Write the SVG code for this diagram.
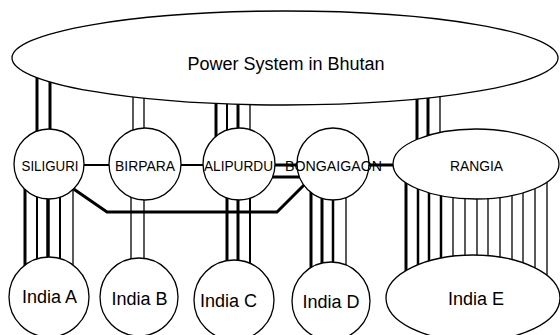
<svg xmlns="http://www.w3.org/2000/svg" width="560" height="335" viewBox="0 0 560 335">
<style>
.n{fill:#fff;stroke:#000;stroke-width:1.3}
.t{font-family:"Liberation Sans",Arial,sans-serif;fill:#000;text-anchor:middle}
.s{font-size:14.5px}
.b{font-size:18px}
.c line,.c polyline{stroke:#000;fill:none}
.w1{stroke-width:1.3}
.w2{stroke-width:2}
.w3{stroke-width:3}
</style>
<rect width="560" height="335" fill="#fff"/>
<g id="connectors" class="c">
<line x1="37" y1="60" x2="37" y2="164" class="w3"/>
<line x1="50" y1="60" x2="50" y2="164" class="w3"/>
<line x1="133" y1="60" x2="133" y2="164" class="w1"/>
<line x1="144" y1="60" x2="144" y2="164" class="w1"/>
<line x1="216" y1="60" x2="216" y2="164" class="w3"/>
<line x1="227" y1="60" x2="227" y2="164" class="w2"/>
<line x1="238" y1="60" x2="238" y2="164" class="w3"/>
<line x1="250" y1="60" x2="250" y2="164" class="w1"/>
<line x1="417" y1="60" x2="417" y2="164" class="w3"/>
<line x1="428" y1="60" x2="428" y2="164" class="w3"/>
<line x1="440" y1="60" x2="440" y2="164" class="w1"/>
<line x1="60" y1="165" x2="130" y2="165" class="w2"/>
<line x1="160" y1="165" x2="225" y2="165" class="w2"/>
<line x1="255" y1="165" x2="310" y2="165" class="w3"/>
<line x1="255" y1="177" x2="315" y2="177" class="w3"/>
<line x1="350" y1="165" x2="420" y2="165" class="w3"/>
<polyline points="70,186.5 107,212 277,212 310,179" class="w3"/>
<line x1="25" y1="164" x2="25" y2="298" class="w3"/>
<line x1="37" y1="164" x2="37" y2="298" class="w2"/>
<line x1="48" y1="164" x2="48" y2="298" style="stroke-width:3.5"/>
<line x1="60" y1="164" x2="60" y2="298" class="w2"/>
<line x1="73" y1="164" x2="73" y2="298" class="w1"/>
<line x1="131" y1="164" x2="131" y2="297" class="w1"/>
<line x1="144" y1="164" x2="144" y2="297" class="w1"/>
<line x1="227" y1="164" x2="227" y2="300" class="w3"/>
<line x1="238" y1="164" x2="238" y2="300" class="w3"/>
<line x1="250" y1="164" x2="250" y2="300" class="w2"/>
<line x1="311" y1="164" x2="311" y2="301" class="w3"/>
<line x1="322" y1="164" x2="322" y2="301" class="w3"/>
<line x1="333" y1="164" x2="333" y2="301" style="stroke-width:2.5"/>
<line x1="346" y1="164" x2="346" y2="301" class="w1"/>
<line x1="406" y1="164" x2="406" y2="298" class="w3"/>
<line x1="418" y1="164" x2="418" y2="298" style="stroke-width:2.5"/>
<line x1="429" y1="164" x2="429" y2="298" style="stroke-width:2.5"/>
<line x1="441" y1="164" x2="441" y2="298" style="stroke-width:2.5"/>
<line x1="453" y1="164" x2="453" y2="298" class="w1"/>
<line x1="465" y1="164" x2="465" y2="298" class="w1"/>
<line x1="477" y1="164" x2="477" y2="298" class="w1"/>
<line x1="488" y1="164" x2="488" y2="298" class="w1"/>
<line x1="500" y1="164" x2="500" y2="298" class="w1"/>
<line x1="512" y1="164" x2="512" y2="298" class="w1"/>
<line x1="523" y1="164" x2="523" y2="298" class="w1"/>
<line x1="535" y1="164" x2="535" y2="298" class="w1"/>
<line x1="547" y1="164" x2="547" y2="298" class="w1"/>
</g>
<g id="bhutan">
<ellipse class="n" cx="285" cy="58" rx="273" ry="47"/>
<text class="t b" x="286" y="70">Power System in Bhutan</text>
</g>
<g id="siliguri">
<circle class="n" cx="49" cy="164" r="35"/>
<text class="t s" x="50" y="170.5" textLength="57" lengthAdjust="spacingAndGlyphs">SILIGURI</text>
</g>
<g id="birpara">
<circle class="n" cx="145" cy="164" r="36"/>
<text class="t s" x="145" y="170.5" textLength="60" lengthAdjust="spacingAndGlyphs">BIRPARA</text>
</g>
<g id="alipurdu">
<circle class="n" cx="239" cy="164" r="36"/>
<text class="t s" x="238.5" y="170.5" textLength="69" lengthAdjust="spacingAndGlyphs">ALIPURDU</text>
</g>
<g id="bongaigaon">
<circle class="n" cx="333" cy="164" r="36"/>
<text class="t s" x="333.5" y="170.5" textLength="97" lengthAdjust="spacingAndGlyphs">BONGAIGAON</text>
</g>
<g id="rangia">
<ellipse class="n" cx="476" cy="164" rx="83" ry="35"/>
<text class="t s" x="476.5" y="170.5" textLength="53" lengthAdjust="spacingAndGlyphs">RANGIA</text>
</g>
<g id="india-a">
<circle class="n" cx="49" cy="297" r="40"/>
<text class="t b" x="49.5" y="303">India A</text>
</g>
<g id="india-b">
<circle class="n" cx="139" cy="297" r="39"/>
<text class="t b" x="139.5" y="305">India B</text>
</g>
<g id="india-c">
<circle class="n" cx="234" cy="300" r="40"/>
<text class="t b" x="228.5" y="307">India C</text>
</g>
<g id="india-d">
<circle class="n" cx="331" cy="301" r="39"/>
<text class="t b" x="331" y="308">India D</text>
</g>
<g id="india-e">
<ellipse class="n" cx="473" cy="298" rx="87" ry="43"/>
<text class="t b" x="476" y="305">India E</text>
</g>
</svg>
